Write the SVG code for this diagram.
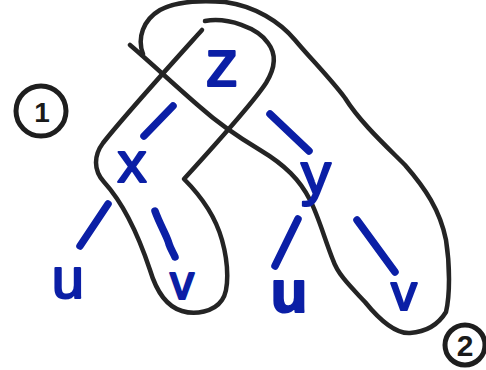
<svg xmlns="http://www.w3.org/2000/svg" width="486" height="370" viewBox="0 0 486 370">
<style>
.loop{fill:none;stroke:#242424;stroke-width:4.5;stroke-linecap:round;stroke-linejoin:round}
.edge{fill:none;stroke:#0b1fa6;stroke-width:7.5;stroke-linecap:round}
.lbl{font-family:"Liberation Sans",Arial,sans-serif;fill:#0b1fa6;stroke:#0b1fa6;stroke-width:2.2;stroke-linejoin:round;text-anchor:middle}
.num{font-family:"Liberation Sans",Arial,sans-serif;fill:#1a1a1a;text-anchor:middle;font-weight:bold}
.ring{fill:none;stroke:#1e1e1e;stroke-width:5}
</style>
<rect width="486" height="370" fill="#ffffff"/>
<g id="loops">
<path id="loop1" class="loop" d="M205,21 C228,17 258,28 268,43 C278,56 274,70 266,83 C255,100 215,145 184,179 C200,195 215,215 222,240 C229,265 229,290 222,300 C214,312 195,315 182,311 C165,306 156,290 150,270 C140,240 125,205 104,182 C93,170 94,155 103,143 C125,115 175,60 202,30"/>
<path id="loop2" class="loop" d="M143,54 C137,38 143,20 160,10 C175,2 200,0 225,2 C255,6 280,22 295,40 C310,58 330,78 345,98 C360,122 385,145 405,165 C425,188 440,210 446,240 C450,265 450,295 446,312 C438,325 425,332 410,333 C395,334 378,318 365,302 C352,288 338,275 333,260 C325,240 318,215 310,200 C300,180 285,165 260,150 C240,138 220,125 200,107 C180,90 150,62 130,45"/>
</g>
<g id="connectors">
<line class="edge" x1="173" y1="106" x2="144" y2="136"/>
<line class="edge" x1="270" y1="114" x2="309" y2="151"/>
<line class="edge" x1="108" y1="204" x2="80" y2="246"/>
<path class="edge" d="M155,211 C160,225 168,238 169,244 C171,250 174,254 175,257"/>
<line class="edge" x1="298" y1="219" x2="275" y2="266"/>
<line class="edge" x1="357" y1="220" x2="395" y2="272"/>
</g>
<g id="node-z"><text class="lbl" x="222" y="86" font-size="66">z</text></g>
<g id="node-x"><text class="lbl" x="132" y="182" font-size="58">x</text></g>
<g id="node-y"><text class="lbl" x="316" y="194" font-size="60">y</text></g>
<g id="node-u1"><text class="lbl" x="68" y="298" font-size="58">u</text></g>
<g id="node-v1"><text class="lbl" x="182" y="299" font-size="48">v</text></g>
<g id="node-u2"><text class="lbl" x="289" y="312" font-size="60" font-weight="bold">u</text></g>
<g id="node-v2"><text class="lbl" x="404" y="310" font-size="52">v</text></g>
<g id="label-1"><ellipse class="ring" cx="41" cy="111" rx="25" ry="25"/><text class="num" x="42" y="122" font-size="28" font-weight="normal">1</text></g>
<g id="label-2"><circle class="ring" cx="465" cy="345" r="20" stroke-width="6"/><text class="num" x="465" y="356" font-size="30">2</text></g>
</svg>
